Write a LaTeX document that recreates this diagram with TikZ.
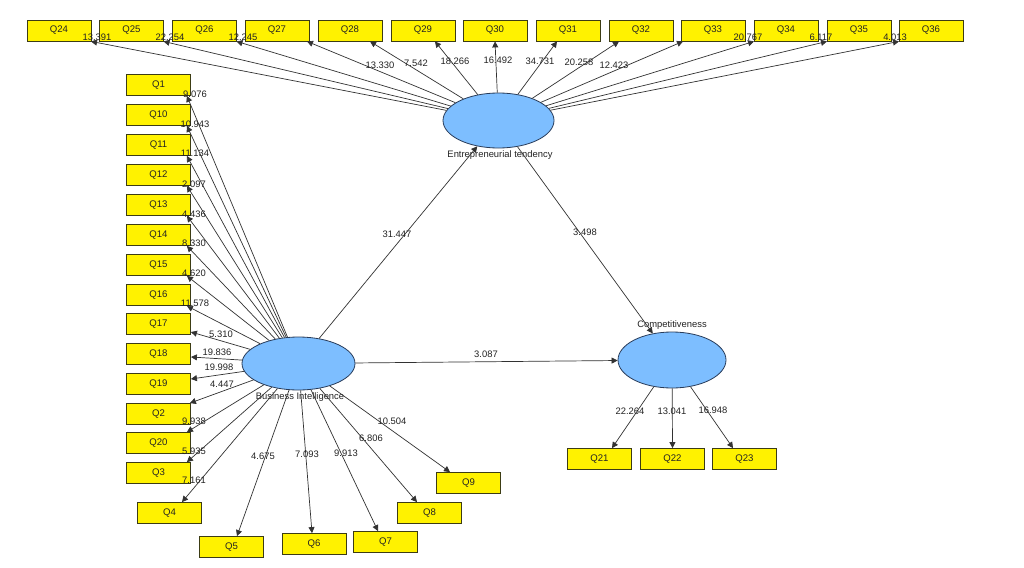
\documentclass[tikz,border=0pt]{standalone}
\usepackage{fontspec}
\setmainfont{Liberation Sans}
\usetikzlibrary{shapes.geometric,arrows.meta,calc}
\definecolor{lv}{RGB}{125,190,255}
\definecolor{latline}{RGB}{40,60,90}
\definecolor{boxline}{RGB}{60,60,20}
\definecolor{lineclr}{RGB}{50,50,50}
\definecolor{txt}{RGB}{35,35,35}
\begin{document}
\begin{tikzpicture}[x=1pt,y=-1pt,
  ind/.style={draw=boxline, fill=yellow, line width=0.8pt, minimum width=64pt, minimum height=21pt, inner sep=0pt, font=\fontsize{9.6}{11}\selectfont, text=txt},
  lat/.style={ellipse, draw=latline, fill=lv, inner sep=0pt, line width=0.8pt},
  conn/.style={draw=lineclr, line width=0.7pt, -{Triangle[length=6pt,width=6pt]}},
  num/.style={font=\fontsize{9.4}{11}\selectfont, text=txt, inner sep=0pt},
]
\useasboundingbox[fill=white] (0,0) rectangle (1024,567);
% latent variables
\node[lat, minimum width=111pt, minimum height=55pt] (ET) at (498.5,120.5) {};
\node[lat, minimum width=113pt, minimum height=53pt] (BI) at (298.5,363.5) {};
\node[lat, minimum width=108pt, minimum height=56pt] (CO) at (672,360) {};
\node[num] (lET) at (500,155) {Entrepreneurial tendency};
\node[num] (lBI) at (300,397) {Business Intelligence};
\node[num] (lCO) at (672,325) {Competitiveness};
% indicator boxes
\foreach \n/\x in {24/59,25/131.5,26/204.5,27/277,28/350,29/423,30/495,31/568,32/641,33/713,34/786,35/859,36/931}
  \node[ind] (Q\n) at (\x,30.5) {Q\n};
\foreach \n/\y in {1/85,10/115,11/145,12/175,13/205,14/235,15/265,16/295,17/324,18/354,19/384,2/414,20/443,3/473}
  \node[ind] (Q\n) at (158.5,\y) {Q\n};
\foreach \n/\x/\y in {4/169.5/513,5/231.5/547,6/314/544,7/385.5/542,8/429.5/513,9/468.5/483,21/599.5/459,22/672.5/459,23/744.5/459}
  \node[ind] (Q\n) at (\x,\y) {Q\n};
% connectors from Entrepreneurial tendency
\foreach \n/\dx in {24/32,25/32,26/32,27/30,28/20,29/12,30/0,31/-11,32/-22,33/-30,34/-32,35/-32,36/-32}
  \draw[conn] (ET) -- ($(Q\n.south)+(\dx,0)$);
% connectors from Business Intelligence
\foreach \n in {1,10,11,12,13,14,15,16}
  \draw[conn] (BI) -- ($(Q\n.south east)+(-4,0)$);
\draw[conn] (BI) -- ($(Q17.east)+(0,8)$);
\draw[conn] (BI) -- ($(Q18.east)+(0,3)$);
\draw[conn] (BI) -- ($(Q19.east)+(0,-5)$);
\draw[conn] (BI) -- ($(Q2.north east)+(-1,0)$);
\draw[conn] (BI) -- ($(Q20.north east)+(-4,0)$);
\draw[conn] (BI) -- ($(Q3.north east)+(-4,0)$);
\foreach \n/\dx in {4/12.5,5/5.5,6/-2,7/-7.5,8/-12.5,9/-18.5}
  \draw[conn] (BI) -- ($(Q\n.north)+(\dx,0)$);
% connectors from Competitiveness
\draw[conn] (CO) -- ($(Q21.north)+(12.5,0)$);
\draw[conn] (CO) -- (Q22.north);
\draw[conn] (CO) -- ($(Q23.north)+(-11.5,0)$);
% structural paths
\draw[conn] (BI) -- (ET);
\draw[conn] (BI) -- (CO);
\draw[conn] (ET) -- (CO);
% numbers
\foreach \t/\x/\y [count=\i] in {13.391/97/37,22.254/170/37,12.245/243/37,13.330/380/65,7.542/416/63,18.266/455/61,16.492/498/60,34.731/540/61,20.258/579/62,12.423/614/65,20.767/748/37,6.117/821/37,4.013/895/37,
  9.076/195/94,10.943/195/124,11.134/195/153,2.097/194/184,4.436/194/214,8.330/194/243,4.620/194/273,11.578/195/303,5.310/221/334,19.836/217/352,19.998/219/367,4.447/222/384,9.938/194/421,5.935/194/451,7.161/194/480,
  4.675/263/456,7.093/307/454,9.913/346/453,6.806/371/438,10.504/392/421,
  31.447/397/234,3.498/585/232,3.087/486/354,22.264/630/411,13.041/672/411,16.948/713/410}
  \node[num] (v\i) at (\x,\y) {\t};
\end{tikzpicture}
\end{document}
